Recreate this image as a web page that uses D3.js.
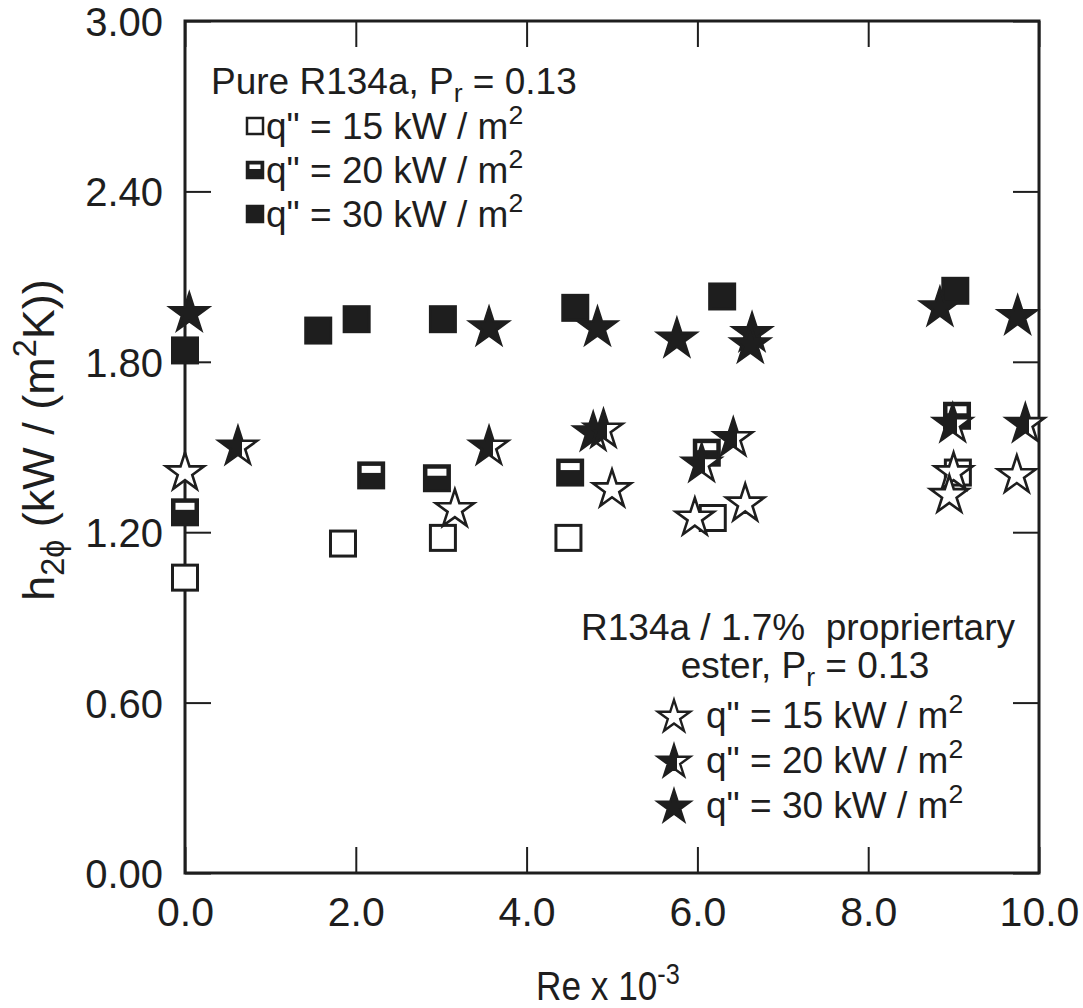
<!DOCTYPE html>
<html>
<head>
<meta charset="utf-8">
<script src="https://cdn.jsdelivr.net/npm/d3@7"></script>
<style>
  body { margin: 0; background: #fff; }
  text { font-family: "Liberation Sans", Arial, Helvetica, sans-serif; fill: #1e1e1e; }
</style>
</head>
<body>
<svg id="chart" width="1083" height="1008"></svg>
<script>
// tick values
const xTicks = [0, 2, 4, 6, 8, 10]
const yTicks = [0, 0.6, 1.2, 1.8, 2.4, 3.0]

// pure R134a  [Re x 10^-3, h2phi]
const pure15 = [[0, 1.04], [1.85, 1.16], [3.02, 1.18], [4.49, 1.18], [6.18, 1.25], [9.05, 1.41]]
const pure20 = [[0, 1.27], [2.18, 1.40], [2.95, 1.39], [4.51, 1.41], [6.11, 1.48], [9.04, 1.61]]
const pure30 = [[0, 1.84], [1.56, 1.91], [2.01, 1.95], [3.02, 1.95], [4.57, 1.99], [6.29, 2.03], [9.02, 2.05]]

// R134a / 1.7% ester
const ester15 = [[0, 1.41], [3.16, 1.28], [5.0, 1.35], [5.97, 1.25], [6.56, 1.30], [9.0, 1.41], [8.95, 1.33], [9.74, 1.40]]
const ester20 = [[0.62, 1.50], [3.56, 1.50], [4.78, 1.55], [4.90, 1.56], [6.05, 1.44], [6.42, 1.53], [8.99, 1.58], [9.84, 1.58]]
const ester30 = [[0.05, 1.97], [3.56, 1.92], [4.83, 1.92], [5.76, 1.88], [6.64, 1.90], [6.62, 1.86], [8.84, 1.99], [9.75, 1.96]]

const ink = '#1e1e1e'
const svg = d3.select('#chart')
const margins = {top: 21, right: 44, bottom: 135, left: 185}
const width = 1083 - margins.left - margins.right
const height = 1008 - margins.top - margins.bottom

const x = d3.scaleLinear().domain([0, 10]).range([0, width])
const y = d3.scaleLinear().domain([0, 3]).range([height, 0])

const defs = svg.append('defs')
const grad = defs.append('linearGradient').attr('id', 'halfStar')
  .attr('x1', 0).attr('x2', 1).attr('y1', 0).attr('y2', 0)
grad.append('stop').attr('offset', 0).attr('stop-color', ink)
grad.append('stop').attr('offset', 0.6).attr('stop-color', ink)
grad.append('stop').attr('offset', 0.6).attr('stop-color', '#fff')
grad.append('stop').attr('offset', 1).attr('stop-color', '#fff')

const g = svg.append('g').attr('transform', `translate(${margins.left}, ${margins.top})`)

// axes with inward ticks on all four sides
const tick = 26
const xAxis = g.append('g').attr('class', 'axis axis--x')
  .attr('transform', `translate(0, ${height})`)
  .call(d3.axisBottom(x).tickValues(xTicks).tickSizeInner(-tick).tickSizeOuter(0)
    .tickPadding(24).tickFormat(d3.format('.1f')))
const yAxis = g.append('g').attr('class', 'axis axis--y')
  .call(d3.axisLeft(y).tickValues(yTicks).tickSizeInner(-tick).tickSizeOuter(0)
    .tickPadding(22).tickFormat(d3.format('.2f')))
g.append('g').call(d3.axisTop(x).tickValues(xTicks).tickSizeInner(-tick).tickSizeOuter(0).tickFormat(''))
g.append('g').attr('transform', `translate(${width}, 0)`)
  .call(d3.axisRight(y).tickValues(yTicks).tickSizeInner(-tick).tickSizeOuter(0).tickFormat(''))

g.selectAll('.tick line').attr('stroke', ink).attr('stroke-width', 2)
g.selectAll('.domain').attr('stroke', 'none')
xAxis.selectAll('text').attr('font-size', 41).attr('fill', ink)
yAxis.selectAll('text').attr('font-size', 40).attr('fill', ink).attr('dy', '0.36em')

g.append('rect').attr('width', width).attr('height', height)
  .attr('fill', 'none').attr('stroke', ink).attr('stroke-width', 3)

// markers
const starPath = (r) => d3.symbol().type(d3.symbolStar).size(r * r / 0.8908130915)()

function square(sel, kind, s, sw) {
  sel.append('rect')
    .attr('x', -s / 2).attr('y', -s / 2).attr('width', s).attr('height', s)
    .attr('fill', kind === 'open' ? '#fff' : ink)
    .attr('stroke', ink).attr('stroke-width', sw)
  if (kind === 'half') {
    sel.append('rect')
      .attr('x', -s / 2 + sw).attr('y', -s / 2 + sw)
      .attr('width', s - 2 * sw).attr('height', s * 0.28)
      .attr('fill', '#fff')
  }
}

function star(sel, kind, r, sw) {
  sel.append('path').attr('d', starPath(r))
    .attr('fill', kind === 'open' ? '#fff' : kind === 'half' ? 'url(#halfStar)' : ink)
    .attr('stroke', ink).attr('stroke-width', sw).attr('stroke-linejoin', 'miter')
}

const sets = [
  {data: pure15, shape: square, kind: 'open'},
  {data: pure20, shape: square, kind: 'half'},
  {data: pure30, shape: square, kind: 'full'},
  {data: ester15, shape: star, kind: 'open'},
  {data: ester20, shape: star, kind: 'half'},
  {data: ester30, shape: star, kind: 'full'},
]

sets.forEach((set) => {
  g.selectAll(null)
    .data(set.data)
    .enter()
    .append('g')
    .attr('transform', (d) => `translate(${x(d[0])}, ${y(d[1])})`)
    .each(function () {
      if (set.shape === square) square(d3.select(this), set.kind, 25, 3)
      else star(d3.select(this), set.kind, 20, 2.6)
    })
})

// text helpers
function richText(parent, parts, attrs) {
  const t = parent.append('text')
  Object.entries(attrs).forEach(([k, v]) => t.attr(k, v))
  parts.forEach((p) => {
    const s = t.append('tspan').text(p.t)
    if (p.sub) s.attr('font-size', '0.72em').attr('dy', '0.3em')
    if (p.sup) s.attr('font-size', '0.72em').attr('dy', '-0.55em')
    if (p.back) s.attr('dy', p.back)
  })
  return t
}
const qParts = (v) => [{t: `q" = ${v} kW / m`}, {t: '2', sup: true}]

// legend: pure R134a
richText(svg, [{t: 'Pure R134a, P'}, {t: 'r', sub: true}, {t: ' = 0.13', back: '-0.22em'}],
  {x: 211, y: 94, 'font-size': 37})
const leg1 = [
  {label: '15', kind: 'open'},
  {label: '20', kind: 'half'},
  {label: '30', kind: 'full'},
]
leg1.forEach((d, i) => {
  const by = 139 + i * 44
  square(svg.append('g').attr('transform', `translate(255, ${by - 13})`), d.kind, 16, 2.5)
  richText(svg, qParts(d.label), {x: 266, y: by, 'font-size': 37})
})

// legend: ester mixture
svg.append('text').attr('x', 798).attr('y', 640).attr('text-anchor', 'middle')
  .attr('font-size', 37).attr('xml:space', 'preserve').text('R134a / 1.7%  propriertary')
richText(svg, [{t: 'ester, P'}, {t: 'r', sub: true}, {t: ' = 0.13', back: '-0.22em'}],
  {x: 805, y: 678, 'font-size': 37, 'text-anchor': 'middle'})
const leg2 = [
  {label: '15', kind: 'open'},
  {label: '20', kind: 'half'},
  {label: '30', kind: 'full'},
]
leg2.forEach((d, i) => {
  const by = 728 + i * 45
  star(svg.append('g').attr('transform', `translate(674, ${by - 11})`), d.kind, 17, 2.4)
  richText(svg, qParts(d.label), {x: 706, y: by, 'font-size': 37})
})

// axis titles
richText(svg, [{t: 'Re x 10'}, {t: '-3', sup: true}],
  {transform: 'translate(608, 1000) scale(0.88, 1)', 'font-size': 40, 'text-anchor': 'middle'})
richText(svg, [{t: 'h'}, {t: '2ϕ', sub: true}, {t: ' (kW / (m', back: '-0.22em'}, {t: '2', sup: true},
  {t: 'K))', back: '0.4em'}],
  {transform: 'translate(54, 440) rotate(-90)', 'font-size': 45, 'text-anchor': 'middle'})
</script>
</body>
</html>
